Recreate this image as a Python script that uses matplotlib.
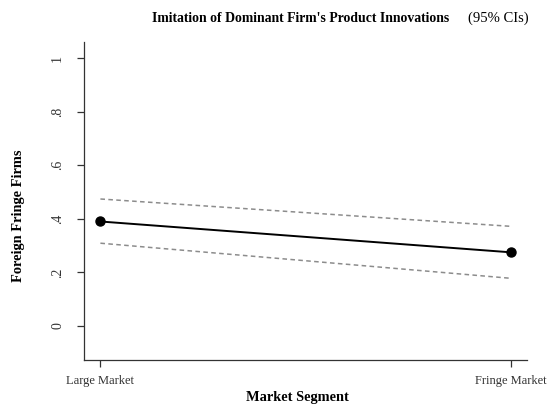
import matplotlib
matplotlib.use("Agg")
import matplotlib.pyplot as plt

segments = ["Large Market", "Fringe Market"]
estimate = [0.39, 0.275]
ci_upper = [0.474, 0.372]
ci_lower = [0.309, 0.178]
y_ticks = [0, 0.2, 0.4, 0.6, 0.8, 1.0]
y_tick_labels = ["0", ".2", ".4", ".6", ".8", "1"]

plt.rcParams["font.family"] = ["Liberation Serif", "DejaVu Serif"]

W, H = 550, 412
fig = plt.figure(figsize=(W / 100, H / 100), dpi=100)
ax = fig.add_axes([84 / W, 1 - 360 / H, (527 - 84) / W, (360 - 42) / H])

x = list(range(len(segments)))
ax.plot(x, ci_upper, linestyle=(0, (3, 2.2)), color="#8c8c8c", lw=1.1)
ax.plot(x, ci_lower, linestyle=(0, (3, 2.2)), color="#8c8c8c", lw=1.1)
ax.plot(x, estimate, color="black", lw=1.4, marker="o", markersize=6.5)

ax.set_xlim(-0.04, 1.04)
ax.set_ylim(-0.127, 1.06)

for side in ("top", "right"):
    ax.spines[side].set_visible(False)
for side in ("left", "bottom"):
    ax.spines[side].set_color("#333333")
    ax.spines[side].set_linewidth(0.9)

ax.set_xticks(x)
ax.set_xticklabels(segments, fontsize=9, color="#333333")
ax.set_yticks(y_ticks)
ax.set_yticklabels(y_tick_labels, fontsize=10, rotation=90, va="center",
                   ha="center", color="#333333")
ax.tick_params(axis="both", length=5, width=0.9, color="#333333")
ax.tick_params(axis="x", pad=6)
ax.tick_params(axis="y", pad=14)

fig.text(297 / W, 1 - 397 / H, "Market Segment", fontsize=10.4,
         fontweight="bold", ha="center", va="center")
fig.text(19 / W, 1 - 216 / H, "Foreign Fringe Firms", fontsize=10.4,
         fontweight="bold", rotation=90, ha="center", va="center")

fig.text(152 / W, 1 - 18 / H, "Imitation of Dominant Firm's Product Innovations",
         fontsize=9.9, fontweight="bold", ha="left", va="center")
fig.text(468 / W, 1 - 18 / H, "(95% CIs)", fontsize=10.5, ha="left",
         va="center")

fig.savefig("out.png", dpi=100)
